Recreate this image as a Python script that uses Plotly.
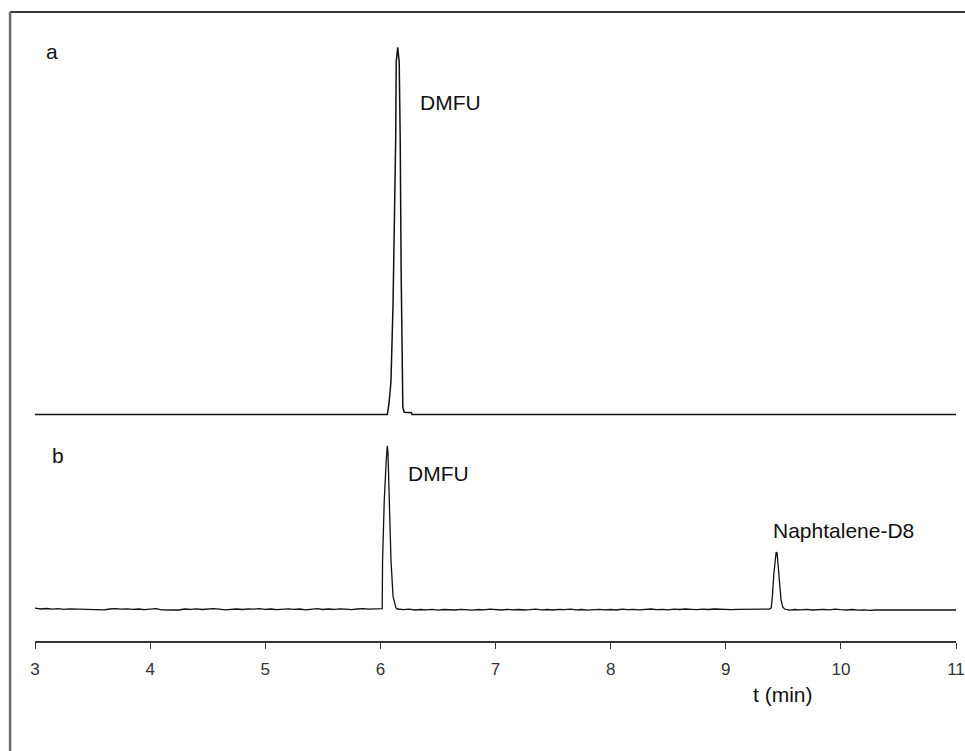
import plotly.graph_objects as go

# ---- data ----
# trace a: retention time (min) and relative signal (apex = 100)
time_a = [3.00, 6.060, 6.075, 6.092, 6.110, 6.125, 6.133, 6.1376, 6.1506, 6.1636, 6.1723,
          6.180, 6.187, 6.195, 6.207, 6.270, 6.275, 11.00]
signal_a = [0, 0, 3, 9, 30, 55, 75, 96, 100, 96, 75, 40, 9, 2, 0.6, 0.5, 0, 0]

# trace b: retention time (min) and relative signal (DMFU apex = 100)
time_b = [3.00, 3.05, 3.10, 3.15, 3.20, 3.25, 3.30, 3.35, 3.40, 3.45, 3.50, 3.55, 3.60, 3.65,
          3.70, 3.75, 3.80, 3.85, 3.90, 3.95, 4.00, 4.05, 4.10, 4.15, 4.20, 4.25, 4.30, 4.35,
          4.40, 4.45, 4.50, 4.55, 4.60, 4.65, 4.70, 4.75, 4.80, 4.85, 4.90, 4.95, 5.00, 5.05,
          5.10, 5.15, 5.20, 5.25, 5.30, 5.35, 5.40, 5.45, 5.50, 5.55, 5.60, 5.65, 5.70, 5.75,
          5.80, 5.85, 5.90, 5.95, 6.00,
          6.016, 6.019, 6.034, 6.050, 6.060, 6.066, 6.077, 6.092, 6.110, 6.135,
          6.15, 6.20, 6.25, 6.30, 6.35, 6.40, 6.45, 6.50, 6.55, 6.60, 6.65, 6.70, 6.75, 6.80,
          6.85, 6.90, 6.95, 7.00, 7.05, 7.10, 7.15, 7.20, 7.25, 7.30, 7.35, 7.40, 7.45, 7.50,
          7.55, 7.60, 7.65, 7.70, 7.75, 7.80, 7.85, 7.90, 7.95, 8.00, 8.05, 8.10, 8.15, 8.20,
          8.25, 8.30, 8.35, 8.40, 8.45, 8.50, 8.55, 8.60, 8.65, 8.70, 8.75, 8.80, 8.85, 8.90,
          8.95, 9.00, 9.05, 9.10, 9.15, 9.20, 9.25, 9.30, 9.35,
          9.380, 9.395, 9.405, 9.418, 9.430, 9.438, 9.446, 9.455, 9.468, 9.480, 9.495, 9.510,
          9.55, 9.60, 9.65, 9.70, 9.75, 9.80, 9.85, 9.90, 9.95, 10.00, 10.05, 10.10, 10.15,
          10.20, 10.25, 10.30, 10.35, 10.40, 10.45, 10.50, 10.55, 10.60, 10.65, 10.70, 10.75,
          10.80, 10.85, 10.90, 10.95, 11.00]
signal_b = [0.8, 0.3, 0.6, 0.2, 0.5, 0.1, 0.4, 0.3, 0.0, -0.2, -0.3, -0.3, -0.2, 0.3,
            0.5, 0.2, 0.4, 0.1, 0.3, -0.1, 0.2, 0.5, -0.2, -0.4, -0.3, -0.3, 0.3, 0.1,
            0.4, 0.0, 0.3, 0.5, 0.2, -0.2, 0.1, 0.3, 0.0, 0.4, 0.2, 0.5, 0.1, 0.3,
            -0.1, 0.2, 0.4, 0.1, 0.3, -0.2, 0.2, 0.5, 0.0, 0.3, 0.1, 0.4, 0.2, -0.1,
            0.3, 0.5, 0.2, 0.3, 0.2,
            0.5, 30, 67, 90, 100, 96, 67, 30, 8, 1,
            0.3, -0.1, 0.2, -0.3, 0.0, -0.2, 0.1, -0.4, 0.0, -0.2, -0.3, 0.1, -0.2, -0.4,
            0.0, -0.2, 0.2, -0.1, -0.3, 0.1, -0.2, 0.0, -0.3, -0.1, 0.2, -0.2, 0.0, -0.3,
            0.1, -0.1, 0.2, -0.2, 0.0, -0.4, -0.1, 0.1, -0.2, 0.0, -0.3, 0.2, -0.1, 0.1,
            -0.2, 0.0, 0.3, -0.1, 0.1, -0.2, 0.2, 0.0, 0.3, 0.1, -0.1, 0.2, 0.0, 0.3,
            0.1, 0.2, -0.1, 0.1, 0.2, 0.0, 0.2, 0.1, 0.2,
            0.3, 1, 8, 22, 32, 35, 34.5, 28, 15, 6, 1.5, 0.3,
            -0.4, 0.0, -0.2, 0.1, -0.3, 0.0, 0.1, -0.2, 0.2, -0.1, -0.3, 0.0, -0.4,
            -0.2, -0.5, -0.3, -0.3, -0.3, -0.3, -0.3, -0.3, -0.3, -0.1, -0.4, -0.2,
            -0.5, -0.2, -0.4, -0.1, -0.3]

x_ticks = [3, 4, 5, 6, 7, 8, 9, 10, 11]
x_tick_labels = ["3", "4", "5", "6", "7", "8", "9", "10", "11"]

peak_labels = ["DMFU", "DMFU", "Naphtalene-D8"]
peak_label_x = [6.33, 6.22, 9.39]      # left edge of each label, minutes
panel_labels = ["a", "b"]
x_title = "t (min)"

FONT = "Arial, Liberation Sans, sans-serif"
W, H = 965, 751
ML, MR, MT, MB = 35, 7, 0, 110
PH = H - MT - MB  # plot height in px


def py(px_y):
    """pixel y (from top of page) -> paper y"""
    return (H - MB - px_y) / PH


def pxx(px_x):
    return (px_x - ML) / (W - ML - MR)


fig = go.Figure()
fig.add_trace(go.Scatter(x=time_a, y=signal_a, mode="lines", yaxis="y",
                         line=dict(color="#111111", width=1.5), showlegend=False))
fig.add_trace(go.Scatter(x=time_b, y=signal_b, mode="lines", yaxis="y2",
                         line=dict(color="#111111", width=1.3), showlegend=False))

# y scales: a baseline at px 414.5, apex at 47.3 ; b baseline at 609.5, apex at 445.7
a_ppu = (414.5 - 47.3) / 100.0
a_r0 = -(H - MB - 414.5) / a_ppu
b_ppu = (609.5 - 445.7) / 100.0
b_r0 = -(H - MB - 609.5) / b_ppu

LBL = dict(size=21, family=FONT, color="#111")
annotations = [
    dict(text=panel_labels[0], xref="paper", yref="paper", x=pxx(52), y=py(52),
         xanchor="center", yanchor="middle", showarrow=False, font=LBL),
    dict(text=panel_labels[1], xref="paper", yref="paper", x=pxx(58), y=py(455),
         xanchor="center", yanchor="middle", showarrow=False, font=LBL),
    dict(text=peak_labels[0], xref="x", yref="paper", x=peak_label_x[0], y=py(102),
         xanchor="left", yanchor="middle", showarrow=False, font=LBL),
    dict(text=peak_labels[1], xref="x", yref="paper", x=peak_label_x[1], y=py(473),
         xanchor="left", yanchor="middle", showarrow=False, font=LBL),
    dict(text=peak_labels[2], xref="x", yref="paper", x=peak_label_x[2], y=py(530),
         xanchor="left", yanchor="middle", showarrow=False, font=LBL),
    dict(text=x_title, xref="x", yref="paper", x=9.50, y=py(695),
         xanchor="center", yanchor="middle", showarrow=False, font=LBL),
]

shapes = [
    dict(type="line", xref="paper", yref="paper", x0=pxx(10), x1=pxx(970),
         y0=py(12), y1=py(12), line=dict(color="#3a3a3a", width=2)),
    dict(type="line", xref="paper", yref="paper", x0=pxx(10), x1=pxx(10),
         y0=py(12), y1=py(760), line=dict(color="#6a6a6a", width=2.5)),
]

fig.update_layout(
    width=W, height=H,
    margin=dict(l=ML, r=MR, t=MT, b=MB),
    paper_bgcolor="white", plot_bgcolor="white",
    font=dict(family=FONT, color="#222"),
    xaxis=dict(range=[3, 11], tickvals=x_ticks, ticktext=x_tick_labels,
               showline=True, linecolor="#333", linewidth=1.5,
               ticks="outside", ticklen=6, tickcolor="#333", tickwidth=1,
               ticklabelstandoff=6, ticklabeloverflow="allow",
               showgrid=False, zeroline=False,
               tickfont=dict(size=17, family=FONT, color="#333")),
    yaxis=dict(range=[a_r0, a_r0 + PH / a_ppu], visible=False, domain=[0, 1]),
    yaxis2=dict(range=[b_r0, b_r0 + PH / b_ppu], visible=False, overlaying="y"),
    annotations=annotations,
    shapes=shapes,
    showlegend=False,
)

fig.write_html("out.html")
